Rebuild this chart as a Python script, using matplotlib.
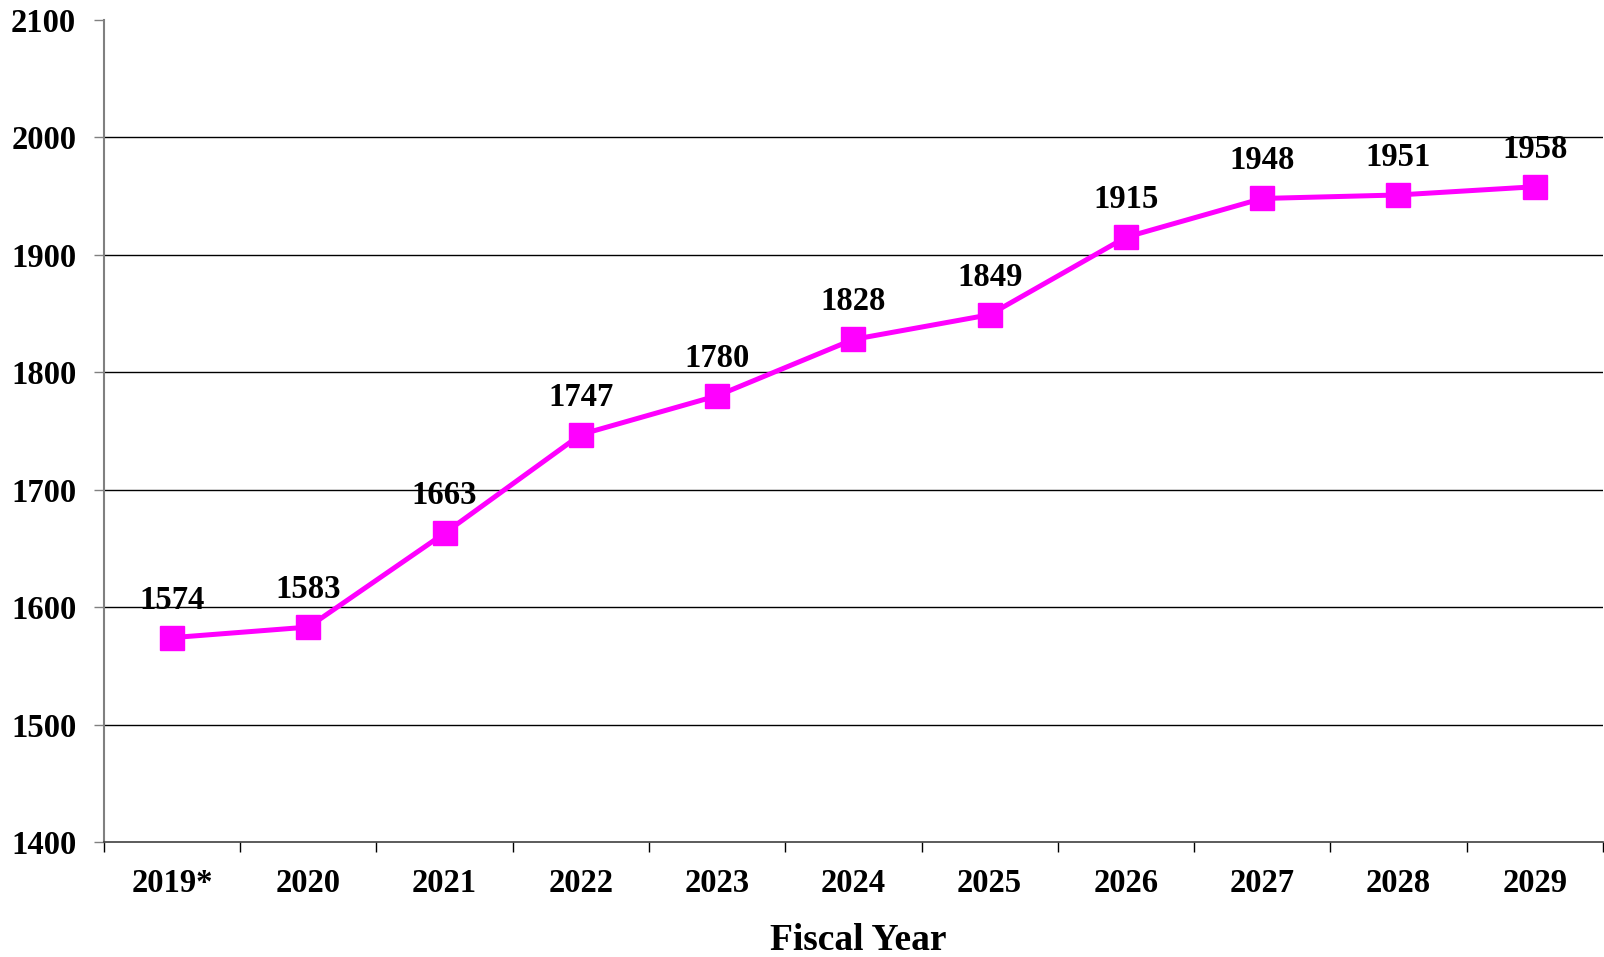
import numpy as np
import matplotlib.pyplot as plt

# Значення по фінансових роках
years = ["2019*", "2020", "2021", "2022", "2023", "2024",
         "2025", "2026", "2027", "2028", "2029"]
values = [1574, 1583, 1663, 1747, 1780, 1828, 1849, 1915, 1948, 1951, 1958]
y_ticks = [1400, 1500, 1600, 1700, 1800, 1900, 2000, 2100]

plt.rcParams["font.family"] = ["Liberation Serif", "DejaVu Serif"]
plt.rcParams["font.weight"] = "bold"

fig = plt.figure(figsize=(16.04, 9.57), dpi=100)
ax = fig.add_axes([0.0648, 0.1202, 0.9345, 0.8589])

x = np.arange(len(years))
ax.plot(x, values, color="#ff00ff", linewidth=3.6, marker="s",
        markersize=17, markerfacecolor="#ff00ff", markeredgecolor="#ff00ff",
        zorder=3)

# Підписи значень над точками
for xi, v in zip(x, values):
    ax.annotate(str(v), (xi, v), xytext=(0, 27), textcoords="offset points",
                ha="center", va="center", fontsize=23.5, fontweight="bold")

ax.set_xlim(-0.5, len(years) - 0.5)
ax.set_ylim(y_ticks[0], y_ticks[-1])
ax.set_yticks(y_ticks)
ax.set_yticklabels([str(t) for t in y_ticks], fontsize=23.5, fontweight="bold")

# Категорії по центру, риски на межах
ax.set_xticks(x)
ax.set_xticklabels(years, fontsize=23.5, fontweight="bold")
ax.set_xticks(np.arange(-0.5, len(years)), minor=True)
ax.tick_params(axis="x", which="major", length=0, pad=19)
ax.tick_params(axis="x", which="minor", length=7, width=1, color="black")
ax.tick_params(axis="y", length=7, width=1, color="#808080", pad=13)

for yv in y_ticks[1:-1]:
    ax.axhline(yv, color="black", linewidth=1, zorder=1)

ax.spines["top"].set_visible(False)
ax.spines["right"].set_visible(False)
ax.spines["left"].set_color("#808080")
ax.spines["left"].set_linewidth(1.5)
ax.spines["bottom"].set_color("#404040")
ax.spines["bottom"].set_linewidth(1.2)

ax.set_xlabel("Fiscal Year", fontsize=27, fontweight="bold")
ax.xaxis.set_label_coords(0.503, -0.099)

fig.savefig("out.png", dpi=100)
